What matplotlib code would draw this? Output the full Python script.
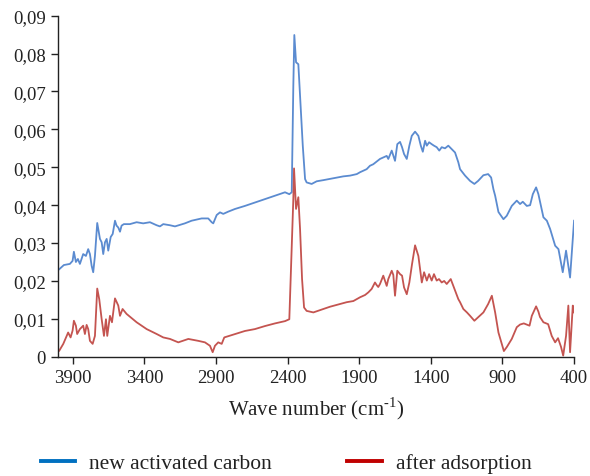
import matplotlib
matplotlib.use('Agg')
import matplotlib.pyplot as plt
from matplotlib.ticker import MultipleLocator, FuncFormatter

# wave numbers (cm-1) and absorbance
wn_new = [3994, 3962, 3920, 3901, 3892, 3878, 3864, 3850, 3827, 3808, 3792, 3780, 3768, 3757,
          3745, 3729, 3710, 3698, 3687, 3675, 3663, 3652, 3635, 3621, 3605, 3594, 3582, 3570,
          3559, 3543, 3501, 3454, 3408, 3361, 3314, 3291, 3268, 3221, 3186, 3117, 3070, 3000,
          2954, 2930, 2919, 2895, 2872, 2849, 2814, 2767, 2698, 2628, 2558, 2488, 2418, 2388,
          2371, 2360, 2353, 2341, 2325, 2313, 2294, 2278, 2267, 2232, 2197, 2151, 2081, 2011,
          1964, 1917, 1894, 1871, 1848, 1825, 1802, 1778, 1755, 1732, 1708, 1697, 1673, 1650,
          1634, 1615, 1601, 1587, 1568, 1550, 1533, 1510, 1487, 1470, 1456, 1440, 1428, 1412,
          1394, 1378, 1359, 1341, 1324, 1301, 1278, 1254, 1231, 1208, 1196, 1161, 1126, 1096,
          1070, 1033, 1000, 979, 963, 951, 928, 893, 870, 835, 800, 777, 758, 730, 707, 688,
          665, 649, 614, 590, 567, 532, 509, 479, 456, 428, 400]
abs_new = [0.0231, 0.0242, 0.0245, 0.0253, 0.0277, 0.0250, 0.0258, 0.0245, 0.0271, 0.0266,
           0.0284, 0.0271, 0.0240, 0.0223, 0.0266, 0.0353, 0.0311, 0.0302, 0.0271, 0.0302,
           0.0311, 0.0280, 0.0316, 0.0324, 0.0359, 0.0346, 0.0341, 0.0330, 0.0346, 0.0350,
           0.0350, 0.0355, 0.0352, 0.0355, 0.0347, 0.0344, 0.0350, 0.0347, 0.0344, 0.0352,
           0.0359, 0.0365, 0.0365, 0.0355, 0.0352, 0.0374, 0.0381, 0.0377, 0.0383, 0.0390,
           0.0398, 0.0407, 0.0416, 0.0425, 0.0434, 0.0429, 0.0434, 0.0715, 0.0849, 0.0777,
           0.0772, 0.0689, 0.0557, 0.0469, 0.0460, 0.0456, 0.0463, 0.0466, 0.0471, 0.0476,
           0.0478, 0.0482, 0.0487, 0.0491, 0.0495, 0.0504, 0.0508, 0.0515, 0.0522, 0.0526,
           0.0530, 0.0522, 0.0544, 0.0517, 0.0561, 0.0567, 0.0553, 0.0535, 0.0522, 0.0557,
           0.0583, 0.0594, 0.0583, 0.0557, 0.0541, 0.0570, 0.0557, 0.0566, 0.0561, 0.0557,
           0.0553, 0.0544, 0.0553, 0.0550, 0.0557, 0.0548, 0.0539, 0.0513, 0.0495, 0.0478,
           0.0464, 0.0456, 0.0464, 0.0479, 0.0482, 0.0473, 0.0442, 0.0425, 0.0382, 0.0363,
           0.0372, 0.0398, 0.0412, 0.0403, 0.0409, 0.0398, 0.0400, 0.0429, 0.0447, 0.0429,
           0.0368, 0.0359, 0.0337, 0.0293, 0.0284, 0.0223, 0.0280, 0.0209, 0.0359]

wn_ads = [3994, 3966, 3932, 3915, 3901, 3892, 3878, 3869, 3850, 3827, 3815, 3803, 3792, 3780,
          3761, 3745, 3729, 3715, 3698, 3682, 3668, 3659, 3640, 3626, 3605, 3582, 3570, 3552,
          3524, 3454, 3384, 3314, 3268, 3221, 3163, 3093, 3024, 2977, 2942, 2923, 2907, 2884,
          2860, 2842, 2767, 2698, 2628, 2558, 2488, 2418, 2388, 2360, 2355, 2341, 2325, 2313,
          2299, 2285, 2267, 2220, 2174, 2104, 2034, 1987, 1941, 1894, 1859, 1836, 1813, 1790,
          1778, 1767, 1755, 1732, 1708, 1697, 1673, 1662, 1650, 1634, 1615, 1601, 1587, 1568,
          1550, 1531, 1510, 1487, 1463, 1447, 1428, 1412, 1394, 1378, 1359, 1343, 1324, 1307,
          1289, 1261, 1243, 1208, 1196, 1173, 1148, 1126, 1096, 1070, 1033, 1000, 974, 951,
          928, 905, 890, 869, 835, 800, 777, 751, 711, 695, 665, 649, 638, 614, 581, 556, 532,
          512, 491, 476, 456, 440, 428, 409, 400]
abs_ads = [0.0016, 0.0034, 0.0064, 0.0051, 0.0069, 0.0095, 0.0082, 0.0060, 0.0073, 0.0082,
           0.0060, 0.0084, 0.0073, 0.0042, 0.0034, 0.0055, 0.0180, 0.0152, 0.0099, 0.0055,
           0.0099, 0.0055, 0.0108, 0.0091, 0.0154, 0.0135, 0.0108, 0.0126, 0.0113, 0.0091,
           0.0073, 0.0060, 0.0051, 0.0047, 0.0038, 0.0047, 0.0042, 0.0038, 0.0029, 0.0012,
           0.0029, 0.0038, 0.0034, 0.0051, 0.0060, 0.0068, 0.0073, 0.0081, 0.0088, 0.0094,
           0.0099, 0.0416, 0.0497, 0.0390, 0.0421, 0.0337, 0.0205, 0.0130, 0.0121, 0.0117,
           0.0123, 0.0132, 0.0139, 0.0144, 0.0147, 0.0157, 0.0163, 0.0170, 0.0179, 0.0196,
           0.0189, 0.0184, 0.0192, 0.0214, 0.0187, 0.0205, 0.0227, 0.0216, 0.0161, 0.0227,
           0.0218, 0.0214, 0.0183, 0.0165, 0.0196, 0.0245, 0.0294, 0.0266, 0.0196, 0.0223,
           0.0201, 0.0218, 0.0201, 0.0218, 0.0201, 0.0205, 0.0196, 0.0200, 0.0192, 0.0205,
           0.0187, 0.0152, 0.0144, 0.0126, 0.0117, 0.0108, 0.0095, 0.0104, 0.0117, 0.0139,
           0.0161, 0.0117, 0.0064, 0.0034, 0.0015, 0.0026, 0.0047, 0.0078, 0.0085, 0.0088,
           0.0082, 0.0108, 0.0133, 0.0119, 0.0105, 0.0091, 0.0086, 0.0055, 0.0038, 0.0049,
           0.0026, 0.0003, 0.0055, 0.0135, 0.0012, 0.0135, 0.0117]

xticks = [3900, 3400, 2900, 2400, 1900, 1400, 900, 400]
labels = ['new activated carbon', 'after adsorption']

plt.rcParams['font.family'] = ['Liberation Serif', 'DejaVu Serif']
plt.rcParams['mathtext.fontset'] = 'custom'
plt.rcParams['mathtext.rm'] = 'Liberation Serif'

fig = plt.figure(figsize=(5.9, 4.77), dpi=100)
ax = fig.add_axes([0.099, 0.250, 0.874, 0.715])

ax.plot(wn_new, abs_new, color='#5B8BD0', lw=1.3)
ax.plot(wn_ads, abs_ads, color='#C45450', lw=1.3)

ax.set_xlim(4000, 400)
ax.set_ylim(0, 0.09)
ax.set_xticks(xticks)
ax.yaxis.set_major_locator(MultipleLocator(0.01))
ax.yaxis.set_major_formatter(FuncFormatter(
    lambda v, p: '0' if abs(v) < 1e-9 else f'{v:.2f}'.replace('.', ',')))

for s in ['top', 'right']:
    ax.spines[s].set_visible(False)
for s in ['left', 'bottom']:
    ax.spines[s].set_color('#222222')
    ax.spines[s].set_linewidth(1.0)
ax.tick_params(direction='out', length=5, width=1, color='#222222',
               labelsize=13.5, labelcolor='#222222', pad=4)

ax.set_xlabel(r'Wave number (cm$^{\text{-1}}$)', fontsize=15, color='#222222', labelpad=6)

h1, = ax.plot([], [], color='#0070C0', lw=2.8)
h2, = ax.plot([], [], color='#C00000', lw=2.8)
fig.legend([h1, h2], labels, loc='center', bbox_to_anchor=(0.485, 0.027), ncol=2,
           frameon=False, fontsize=15.5, handlelength=1.6, columnspacing=3.5,
           handletextpad=0.65, labelcolor='#222222')

fig.savefig('out.png', dpi=100)
